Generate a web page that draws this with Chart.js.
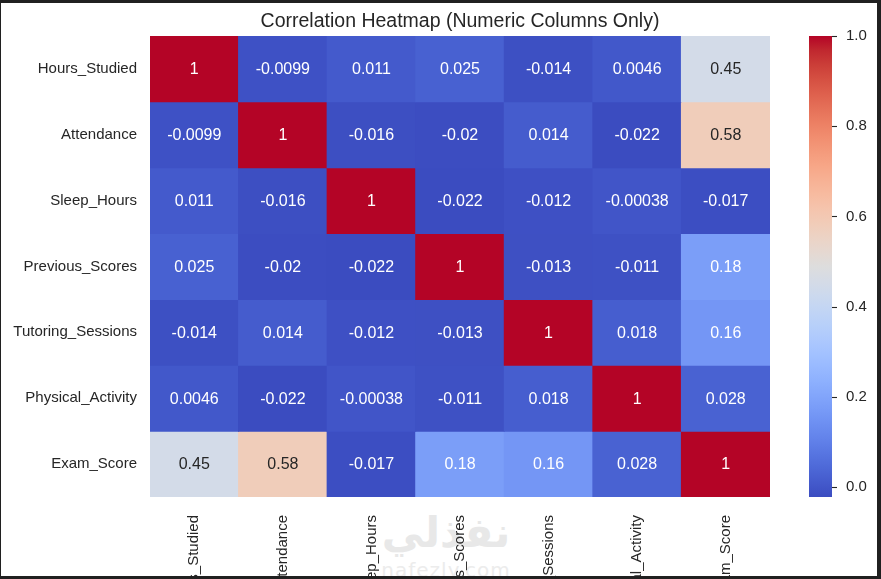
<!DOCTYPE html>
<html>
<head>
<meta charset="utf-8">
<script src="https://cdn.jsdelivr.net/npm/chart.js@4.4.0/dist/chart.umd.min.js"></script>
<style>
html,body{margin:0;padding:0;background:#202020;width:881px;height:579px;overflow:hidden}
#wrap{position:absolute;left:1px;top:3px;width:876px;height:573px;background:#fff;overflow:hidden}
.wm{position:absolute;color:#e8e8e8;white-space:nowrap;text-align:center;width:160px;left:365px}
#wm1{top:505px;font:bold 42px "DejaVu Sans",sans-serif}
#wm2{top:555px;font:20px "DejaVu Sans",sans-serif;letter-spacing:1px;color:#ececec}
canvas{position:absolute;left:0;top:0}
</style>
</head>
<body>
<div id="wrap">
  <div class="wm" id="wm1">نفذلي</div>
  <div class="wm" id="wm2">nafezly.com</div>
  <canvas id="c" width="876" height="573" style="width:876px;height:573px"></canvas>
</div>
<script>
// ---- data ----
const chartTitle = "Correlation Heatmap (Numeric Columns Only)";
const rowLabels = ["Hours_Studied","Attendance","Sleep_Hours","Previous_Scores","Tutoring_Sessions","Physical_Activity","Exam_Score"];
const colLabels = ["Hours_Studied","Attendance","Sleep_Hours","Previous_Scores","Tutoring_Sessions","Physical_Activity","Exam_Score"];
const rowHoursStudied    = [1, -0.0099, 0.011, 0.025, -0.014, 0.0046, 0.45];
const rowAttendance      = [-0.0099, 1, -0.016, -0.02, 0.014, -0.022, 0.58];
const rowSleepHours      = [0.011, -0.016, 1, -0.022, -0.012, -0.00038, -0.017];
const rowPreviousScores  = [0.025, -0.02, -0.022, 1, -0.013, -0.011, 0.18];
const rowTutoring        = [-0.014, 0.014, -0.012, -0.013, 1, 0.018, 0.16];
const rowPhysical        = [0.0046, -0.022, -0.00038, -0.011, 0.018, 1, 0.028];
const rowExamScore       = [0.45, 0.58, -0.017, 0.18, 0.16, 0.028, 1];
const colorbarTicks = [0, 0.2, 0.4, 0.6, 0.8, 1.0];

const matrix = [rowHoursStudied,rowAttendance,rowSleepHours,rowPreviousScores,rowTutoring,rowPhysical,rowExamScore];

// ---- coolwarm colormap ----
const coolwarm = [
[59,76,192],[68,90,204],[77,104,215],[87,117,225],[98,130,234],[108,142,241],[119,154,247],[130,165,251],
[141,176,254],[152,185,255],[163,194,255],[174,201,253],[184,208,249],[194,213,244],[204,217,238],[213,219,230],
[221,221,221],[229,216,209],[236,211,197],[241,204,184],[245,196,173],[247,187,160],[247,177,148],[247,166,135],
[244,154,123],[241,141,111],[236,127,99],[229,112,88],[222,96,77],[213,80,66],[203,62,56],[192,40,47],[180,4,38]];
function cmapRGB(t){
  t = Math.max(0, Math.min(1, t));
  const n = coolwarm.length - 1, p = t * n, i = Math.min(n - 1, Math.floor(p)), f = p - i;
  return coolwarm[i].map((c, k) => c + (coolwarm[i+1][k] - c) * f);
}
const rgbStr = c => `rgb(${Math.round(c[0])},${Math.round(c[1])},${Math.round(c[2])})`;
const allVals = matrix.flat();
const vmin = Math.min(...allVals), vmax = Math.max(...allVals);
const norm = v => (v - vmin) / (vmax - vmin);
function lum(c){
  const l = c.map(x => { x /= 255; return x <= 0.03928 ? x / 12.92 : Math.pow((x + 0.055) / 1.055, 2.4); });
  return 0.2126*l[0] + 0.7152*l[1] + 0.0722*l[2];
}
const fmt = v => String(Number(v.toPrecision(2)));

const FONT = '"Liberation Sans", Arial, sans-serif';
const TXT = '#262626';

const datasets = matrix.map((row, i) => ({
  label: rowLabels[i],
  data: row.map(() => [i, i + 1]),
  values: row,
  backgroundColor: row.map(v => rgbStr(cmapRGB(norm(v)))),
  borderWidth: 0,
  grouped: false,
  barPercentage: 1,
  categoryPercentage: 1,
  inflateAmount: 0.5,
  yAxisID: 'y'
}));

const annotPlugin = {
  id: 'annot',
  afterDatasetsDraw(chart){
    const ctx = chart.ctx;
    ctx.save();
    ctx.font = '16px ' + FONT;
    ctx.textAlign = 'center';
    ctx.textBaseline = 'middle';
    chart.data.datasets.forEach((ds, di) => {
      const meta = chart.getDatasetMeta(di);
      meta.data.forEach((el, j) => {
        const p = el.getProps(['x','y','base'], true);
        const v = ds.values[j];
        ctx.fillStyle = lum(cmapRGB(norm(v))) > 0.408 ? TXT : '#ffffff';
        ctx.fillText(fmt(v), p.x, (p.y + p.base) / 2 + 1);
      });
    });
    ctx.restore();
  }
};

const colorbarPlugin = {
  id: 'colorbar',
  afterDraw(chart){
    const s = chart.scales.cb, ctx = chart.ctx;
    const yTop = s.getPixelForValue(vmax), yBot = s.getPixelForValue(vmin);
    const x0 = s.left + 39, w = 23;
    const g = ctx.createLinearGradient(0, yBot, 0, yTop);
    coolwarm.forEach((c, k) => g.addColorStop(k / (coolwarm.length - 1), rgbStr(c)));
    ctx.save();
    ctx.fillStyle = g;
    ctx.fillRect(x0, yTop, w, yBot - yTop);
    ctx.strokeStyle = TXT;
    ctx.lineWidth = 1.1;
    s.ticks.forEach(t => {
      const y = Math.round(s.getPixelForValue(t.value)) + 0.5;
      ctx.beginPath(); ctx.moveTo(x0 + w, y); ctx.lineTo(x0 + w + 5, y); ctx.stroke();
    });
    ctx.restore();
  }
};

new Chart(document.getElementById('c'), {
  type: 'bar',
  data: { labels: colLabels, datasets },
  plugins: [annotPlugin, colorbarPlugin],
  options: {
    responsive: false,
    animation: false,
    layout: { padding: 0 },
    plugins: {
      legend: { display: false },
      tooltip: { enabled: false },
      title: {
        display: true, text: chartTitle, fullSize: false, color: TXT,
        font: { family: FONT, size: 19.5, weight: 'normal', lineHeight: 1.2 },
        padding: { top: 7, bottom: 2.6 }
      }
    },
    scales: {
      x: {
        type: 'category',
        grid: { display: false, drawTicks: false },
        border: { display: false },
        ticks: { color: TXT, font: { family: FONT, size: 15 }, maxRotation: 90, minRotation: 90, autoSkip: false, padding: 18 },
        afterFit(s){ s.height = 79; }
      },
      y: {
        type: 'linear', min: 0, max: rowLabels.length, reverse: true,
        grid: { display: false, drawTicks: false },
        border: { display: false },
        afterBuildTicks(s){ s.ticks = rowLabels.map((_, i) => ({ value: i + 0.5 })); },
        ticks: { color: TXT, font: { family: FONT, size: 15 }, padding: 13, callback: (v, i) => rowLabels[i] },
        afterFit(s){ s.width = 149; }
      },
      cb: {
        type: 'linear', position: 'right', min: vmin, max: vmax,
        grid: { display: true, drawOnChartArea: false, drawTicks: true, tickLength: 70, color: 'rgba(0,0,0,0)' },
        border: { display: false },
        afterBuildTicks(s){ s.ticks = colorbarTicks.map(v => ({ value: v })); },
        ticks: { color: TXT, font: { family: FONT, size: 15 }, padding: 6, callback: v => Number(v).toFixed(1) },
        afterFit(s){ s.width = 107; }
      }
    }
  }
});
</script>
</body>
</html>
